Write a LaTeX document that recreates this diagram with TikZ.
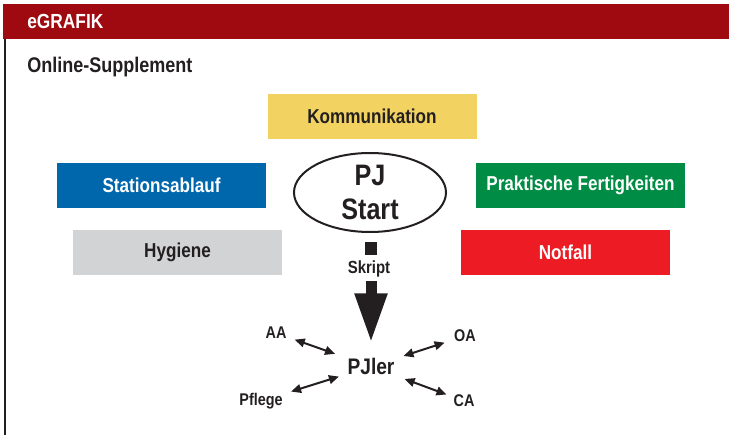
\documentclass[tikz,border=0pt]{standalone}
\usepackage{fontspec}
\setmainfont{Liberation Sans}[FakeStretch=0.85]
\usetikzlibrary{arrows.meta,shapes.geometric}
\definecolor{hdr}{HTML}{9F0A10}
\definecolor{txt}{HTML}{231F20}
\definecolor{cyel}{HTML}{F2D362}
\definecolor{cblue}{HTML}{0067AC}
\definecolor{cgreen}{HTML}{008C44}
\definecolor{cgrey}{HTML}{D1D3D4}
\definecolor{cred}{HTML}{ED1C24}
\begin{document}
\begin{tikzpicture}[x=0.75pt,y=-0.75pt,
  every node/.style={text=txt},
  box/.style={minimum width=156.75pt, minimum height=33.75pt, inner sep=0pt,
    font=\bfseries\fontsize{15.1}{17}\selectfont},
  lbl/.style={inner sep=0pt, font=\bfseries\fontsize{12.7}{14}\selectfont},
  dbl/.style={txt, line width=1.5pt, {Triangle[length=7.5pt,width=6.5pt]}-{Triangle[length=7.5pt,width=6.5pt]}}
]
\useasboundingbox (0,0) rectangle (729,435);
% header and frame
\fill[hdr] (3,4) rectangle (729,39);
\draw[txt, line width=1.5pt] (5,39) -- (5,435);
\node[anchor=west, inner sep=0pt, text=white, font=\bfseries\fontsize{15.3}{17}\selectfont] (eg) at (27,21) {eGRAFIK};
\node[anchor=west, inner sep=0pt, font=\bfseries\fontsize{15.9}{18}\selectfont] (os) at (27,67) {Online-Supplement};
% topic boxes
\node[box, fill=cyel] (komm) at (372,116.5) {Kommunikation};
\node[box, fill=cblue, text=white] (stat) at (161.5,185.5) {Stationsablauf};
\node[box, fill=cgreen, text=white] (prak) at (580.5,185.5) {Praktische Fertigkeiten};
\node[box, fill=cgrey] (hyg) at (177.5,252.5) {Hygiene};
\node[box, fill=cred, text=white] (notf) at (565.5,252.5) {Notfall};
% centre
\node[ellipse, draw=txt, line width=1.5pt, minimum width=114pt, minimum height=59.25pt,
  inner sep=0pt, align=center, font=\bfseries\fontsize{22.2}{25.5}\selectfont] (start) at (370,192.5) {PJ\\Start};
\node[fill=txt, minimum width=9pt, minimum height=9.75pt, inner sep=0pt] (sq) at (371,248.5) {};
\node[inner sep=0pt, font=\bfseries\fontsize{13.2}{15}\selectfont] (skript) at (369,268.5) {Skript};
\node[inner sep=0pt, font=\bfseries\fontsize{16.9}{19}\selectfont] (pjler) at (371,366.5) {PJler};
\draw[txt, line width=8.25pt, -{Triangle[length=37.5pt,width=22.5pt]}, shorten <=3pt, shorten >=11pt]
  (skript.south -| pjler.north) -- (pjler.north);
% roles
\node[lbl] (aa) at (276,333) {AA};
\node[lbl] (oa) at (465,336) {OA};
\node[lbl] (pfl) at (261,401) {Pflege};
\node[lbl] (ca) at (464,401) {CA};
\draw[dbl, shorten <=6.4pt, shorten >=9.75pt] (aa) -- (pjler);
\draw[dbl, shorten <=7.35pt, shorten >=6.9pt] (oa) -- (pjler);
\draw[dbl, shorten <=6.45pt, shorten >=6.6pt] (pfl) -- (pjler);
\draw[dbl, shorten <=8.5pt, shorten >=5.5pt] (pjler) -- (ca);
\end{tikzpicture}
\end{document}
